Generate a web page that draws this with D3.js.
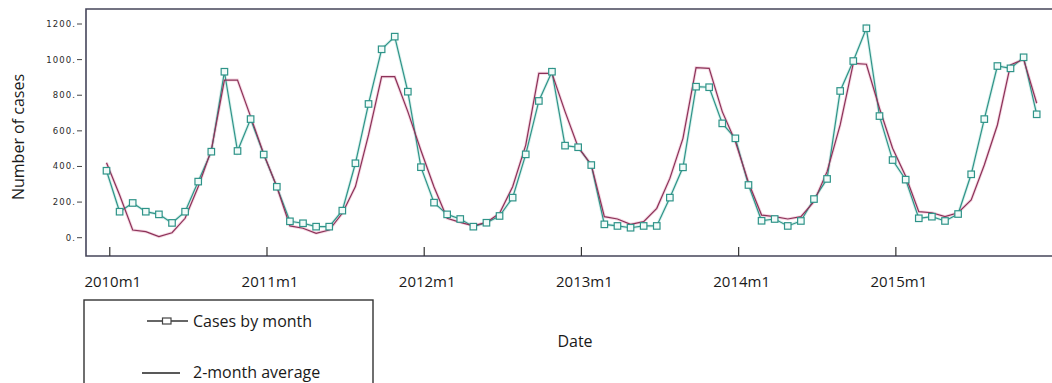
<!DOCTYPE html>
<html>
<head>
<meta charset="utf-8">
<script src="https://cdn.jsdelivr.net/npm/d3@7"></script>
<style>
  html, body { margin: 0; padding: 0; background: #fff; }
  svg { display: block; }
</style>
</head>
<body>
<svg id="chart" width="1052" height="383"></svg>
<script>
// ---- data ----
const cases = [
  376,146,195,146,131,83,146,315,483,932,487,666,
  467,286,92,81,62,62,152,418,751,1058,1129,820,
  396,197,131,105,62,84,122,225,468,768,932,517,
  508,408,75,66,56,66,66,225,395,848,845,642,
  558,296,95,105,66,94,217,330,824,992,1176,683,
  436,326,109,118,94,133,356,666,964,951,1013,693
];
const avg2 = [
  421,240,43,34,6,28,109,286,492,885,885,680,
  470,286,66,53,25,43,137,287,577,904,904,708,
  490,285,109,86,67,86,137,286,520,923,923,708,
  508,410,118,105,75,90,165,333,558,955,951,708,
  540,310,127,118,105,118,202,371,633,979,974,727,
  502,345,146,140,118,140,212,408,633,970,1002,755
];
const yTicks = [0,200,400,600,800,1000,1200];
const xTickMonths = [0,12,24,36,48,60];
const xTickLabels = ["2010m1","2011m1","2012m1","2013m1","2014m1","2015m1"];
const yTitle = "Number of cases";
const xTitle = "Date";
const legendLabels = ["Cases by month","2-month average"];

// ---- layout ----
const svg = d3.select("#chart");
const frame = {left: 86, top: 9, bottom: 256, right: 1060};
const x = d3.scaleLinear().domain([0, cases.length - 1]).range([106.5, 1036.7]);
const y = d3.scaleLinear().domain([0, 1200]).range([237.7, 24]);

const tealLine = "#2f9489";
const tealFill = "#f2fbf9";
const redLine = "#8c3258";
const frameCol = "#45455a";

// frame
svg.append("path")
  .attr("d", `M${frame.right},${frame.top}H${frame.left}V${frame.bottom}H${frame.right}`)
  .attr("fill", "none").attr("stroke", frameCol).attr("stroke-width", 1.6);

// y ticks
const yg = svg.append("g");
yTicks.forEach(v => {
  yg.append("text")
    .attr("x", 76).attr("y", y(v))
    .attr("dy", "0.35em")
    .attr("text-anchor", "end")
    .attr("font-family", "DejaVu Sans")
    .attr("font-size", 8.5)
    .attr("letter-spacing", 1.1)
    .attr("fill", "#2a2a2a")
    .text(v + ".");
  yg.append("line")
    .attr("x1", 77).attr("x2", 82)
    .attr("y1", y(v)).attr("y2", y(v))
    .attr("stroke", "#444").attr("stroke-width", 1);
});

// x ticks
const xg = svg.append("g");
xTickMonths.forEach((m, i) => {
  const px = x(m + 0.25);
  xg.append("line")
    .attr("x1", px).attr("x2", px)
    .attr("y1", frame.bottom - 9).attr("y2", frame.bottom)
    .attr("stroke", "#333").attr("stroke-width", 1.2);
  xg.append("text")
    .attr("x", px + 3).attr("y", 287)
    .attr("text-anchor", "middle")
    .attr("font-family", "Open Sans")
    .attr("font-size", 15)
    .attr("fill", "#1a1a1a")
    .text(xTickLabels[i]);
});

// axis titles
svg.append("text")
  .attr("transform", "translate(18,137) rotate(-90)")
  .attr("text-anchor", "middle")
  .attr("dominant-baseline", "central")
  .attr("font-family", "Open Sans")
  .attr("font-size", 16)
  .attr("fill", "#1a1a1a")
  .text(yTitle);

svg.append("text")
  .attr("x", 575).attr("y", 347)
  .attr("text-anchor", "middle")
  .attr("font-family", "Open Sans")
  .attr("font-size", 16)
  .attr("fill", "#1a1a1a")
  .text(xTitle);

// lines
const line = d3.line().x((d, i) => x(i)).y(d => y(d));

svg.append("path").datum(cases).attr("d", line)
  .attr("fill", "none").attr("stroke", "#bfe6df").attr("stroke-width", 3).attr("opacity", 0.6);
svg.append("path").datum(avg2).attr("d", line)
  .attr("fill", "none").attr("stroke", "#f0c4d6").attr("stroke-width", 3).attr("opacity", 0.7);
svg.append("path").datum(cases).attr("d", line)
  .attr("fill", "none").attr("stroke", tealLine).attr("stroke-width", 1.2);
svg.append("path").datum(avg2).attr("d", line)
  .attr("fill", "none").attr("stroke", redLine).attr("stroke-width", 1.2);

// markers
const ms = 6.5;
svg.append("g").selectAll("rect").data(cases).join("rect")
  .attr("x", (d, i) => x(i) - ms / 2)
  .attr("y", d => y(d) - ms / 2)
  .attr("width", ms).attr("height", ms)
  .attr("fill", tealFill)
  .attr("stroke", tealLine).attr("stroke-width", 1.2);

// legend
const lg = svg.append("g");
lg.append("rect")
  .attr("x", 84).attr("y", 300).attr("width", 289).attr("height", 120)
  .attr("fill", "none").attr("stroke", "#333").attr("stroke-width", 1.4);
lg.append("line").attr("x1", 147).attr("x2", 188).attr("y1", 321).attr("y2", 321)
  .attr("stroke", "#333").attr("stroke-width", 1.3);
lg.append("rect").attr("x", 162.5).attr("y", 318).attr("width", 8.5).attr("height", 6)
  .attr("fill", "#fff").attr("stroke", "#444").attr("stroke-width", 1.2);
lg.append("text").attr("x", 193).attr("y", 327)
  .attr("font-family", "Open Sans").attr("font-size", 16).attr("fill", "#1a1a1a")
  .text(legendLabels[0]);
lg.append("line").attr("x1", 142).attr("x2", 180).attr("y1", 373).attr("y2", 373)
  .attr("stroke", "#222").attr("stroke-width", 1.3);
lg.append("text").attr("x", 193).attr("y", 378)
  .attr("font-family", "Open Sans").attr("font-size", 16).attr("fill", "#1a1a1a")
  .text(legendLabels[1]);
</script>
</body>
</html>
